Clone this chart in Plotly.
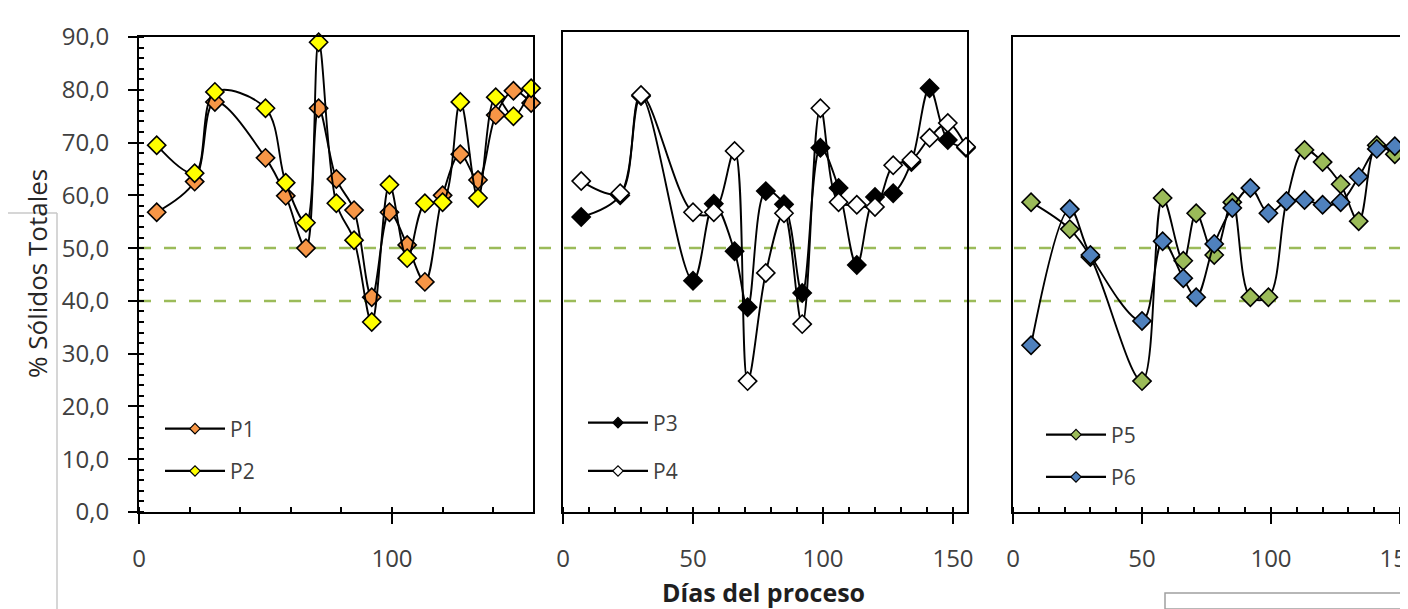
import plotly.graph_objects as go

# ---------------- data ----------------
days = [7, 22, 30, 50, 58, 66, 71, 78, 85, 92, 99, 106, 113, 120, 127, 134, 141, 148, 155]

p1 = [56.8, 62.6, 77.7, 67.1, 59.9, 50.0, 76.5, 63.1, 57.2, 40.7, 56.8, 50.6, 43.6, 60.0, 67.8, 62.9, 75.2, 79.8, 77.5]
p2 = [69.5, 64.2, 79.6, 76.5, 62.4, 54.8, 89.0, 58.5, 51.5, 36.0, 62.0, 48.1, 58.5, 58.7, 77.7, 59.5, 78.6, 75.0, 80.3]
p3 = [55.9, 60.0, 78.8, 43.8, 58.4, 49.4, 38.8, 60.8, 58.3, 41.5, 69.0, 61.4, 46.8, 59.7, 60.4, 66.3, 80.3, 70.5, 69.0]
p4 = [62.7, 60.4, 79.0, 56.8, 56.8, 68.4, 24.8, 45.3, 56.6, 35.6, 76.5, 58.7, 58.2, 57.8, 65.7, 66.7, 70.9, 73.7, 69.2]
p5 = [58.7, 53.6, 48.3, 24.8, 59.5, 47.6, 56.6, 48.7, 58.7, 40.7, 40.7, 58.9, 68.6, 66.3, 62.1, 55.1, 69.5, 67.8, 67.2]
p6 = [31.6, 57.4, 48.7, 36.2, 51.3, 44.3, 40.7, 50.8, 57.6, 61.4, 56.6, 58.9, 59.1, 58.2, 58.7, 63.5, 68.8, 69.3, 67.3]

series_names = ["P1", "P2", "P3", "P4", "P5", "P6"]
series_values = [p1, p2, p3, p4, p5, p6]
series_colors = ["#F79646", "#FFFF00", "#000000", "#FFFFFF", "#9BBB59", "#4F81BD"]
series_panel = [1, 1, 2, 2, 3, 3]

limit_lines = [50, 40]

y_title = "% Sólidos Totales"
x_title = "Días del proceso"

# ---------------- layout helpers ----------------
# the page body has an 8px margin, so the figure covers window pixels 8..1408 x 8..609
OFF = 8
W, H = 1408 - OFF, 609 - OFF
def fx(p):
    return (p - OFF) / W
def fy(p):
    return 1 - (p - OFF) / H

FONT = "Open Sans"
TXT = "#404040"

fig = go.Figure()

axis_suffix = {1: "", 2: "2", 3: "3"}
legend_name = {1: "legend", 2: "legend2", 3: "legend3"}

for name, vals, col, pan in zip(series_names, series_values, series_colors, series_panel):
    s = axis_suffix[pan]
    fig.add_trace(go.Scatter(
        x=days, y=vals, name=name, mode="lines+markers",
        xaxis="x" + s, yaxis="y" + s,
        line=dict(color="black", width=1.9, shape="spline", smoothing=1.0),
        marker=dict(symbol="diamond", size=14, color=col, line=dict(color="black", width=1.6)),
        showlegend=False, cliponaxis=False,
    ))

for name, col, pan in zip(series_names, series_colors, series_panel):
    s = axis_suffix[pan]
    fig.add_trace(go.Scatter(
        x=[None], y=[None], name=name, mode="lines+markers",
        xaxis="x" + s, yaxis="y" + s,
        line=dict(color="black", width=2.2),
        marker=dict(symbol="diamond", size=8, color=col, line=dict(color="black", width=1.2)),
        showlegend=True, legend=legend_name[pan], legendgroup=name,
    ))

tickfont = dict(family=FONT, size=24, color=TXT)

def xaxis(dom, rng, dtick, mdtick, anchor, mirror=True):
    return dict(domain=dom, range=rng, anchor=anchor, showgrid=False, zeroline=False,
                showline=True, linecolor="black", linewidth=2, mirror=mirror,
                ticks="outside", ticklen=10, tickwidth=2, tickcolor="black",
                dtick=dtick, tick0=0, tickfont=tickfont, ticklabelstandoff=14,
                ticklabeloverflow="allow",
                minor=dict(dtick=mdtick, tick0=0, ticks="inside", ticklen=5, tickwidth=1.5, tickcolor="black"),
                fixedrange=True)

def xover(over, rng, dtick, anchor, dom):
    return dict(overlaying=over, domain=dom, range=rng, anchor=anchor, showgrid=False, zeroline=False,
                showline=False, ticks="inside", ticklen=5, tickwidth=2, tickcolor="black",
                dtick=dtick, tick0=0, showticklabels=False)

ydom1 = [fy(512), fy(37)]
ydom2 = [fy(512), fy(32)]

xr1 = [0, (533 - 139) / ((392 - 139) / 100)]
xr2 = [0, (967 - 563) / ((953 - 563) / 150)]
xr3 = [0, (1408 - 1013) / ((1400 - 1013) / 150)]

legfont = dict(family=FONT, size=21, color=TXT)

fig.update_layout(
    width=W, height=H,
    margin=dict(l=0, r=0, t=0, b=0, pad=0, autoexpand=False),
    paper_bgcolor="white", plot_bgcolor="rgba(0,0,0,0)",
    separators=",.",
    xaxis=xaxis([fx(139), fx(533)], xr1, 100, 20, "y"),
    xaxis2=xaxis([fx(563), fx(967)], xr2, 50, 10, "y2"),
    xaxis3=xaxis([fx(1013), 1.0], xr3, 50, 10, "y3"),
    xaxis4=xover("x", xr1, 100, "y", [fx(139), fx(533)]),
    xaxis5=xover("x2", xr2, 50, "y2", [fx(563), fx(967)]),
    xaxis6=xover("x3", xr3, 50, "y3", [fx(1013), 1.0]),
    yaxis=dict(domain=ydom1, range=[0, 90], anchor="x", showgrid=False, zeroline=False,
               showline=True, linecolor="black", linewidth=2, mirror=True,
               ticks="outside", ticklen=9, tickwidth=2, tickcolor="black",
               dtick=10, tick0=0, tickformat=".1f", tickfont=tickfont, ticklabelstandoff=14,
               minor=dict(dtick=2, tick0=0, ticks="inside", ticklen=5, tickwidth=1.5, tickcolor="black"),
               fixedrange=True),
    yaxis4=dict(overlaying="y", domain=ydom1, range=[0, 90], anchor="x", showgrid=False, zeroline=False,
                showline=False, ticks="inside", ticklen=5, tickwidth=2, tickcolor="black",
                dtick=10, tick0=0, showticklabels=False),
    yaxis2=dict(domain=ydom2, range=[0, (512 - 32) / (475 / 90)], anchor="x2", showgrid=False, zeroline=False,
                showline=True, linecolor="black", linewidth=2, mirror=True,
                ticks="", showticklabels=False, fixedrange=True),
    yaxis3=dict(domain=ydom1, range=[0, 90], anchor="x3", showgrid=False, zeroline=False,
                showline=True, linecolor="black", linewidth=2, mirror=False,
                ticks="", showticklabels=False, fixedrange=True),
    legend=dict(x=fx(160), y=fy(450), xanchor="left", yanchor="middle",
                font=legfont, itemwidth=60, tracegroupgap=12, bgcolor="rgba(0,0,0,0)"),
    legend2=dict(x=fx(583), y=fy(447), xanchor="left", yanchor="middle",
                 font=legfont, itemwidth=60, tracegroupgap=18, bgcolor="rgba(0,0,0,0)"),
    legend3=dict(x=fx(1041), y=fy(456), xanchor="left", yanchor="middle",
                 font=legfont, itemwidth=60, tracegroupgap=12, bgcolor="rgba(0,0,0,0)"),
    showlegend=True,
)

# horizontal dashed limit lines crossing all panels
for v in limit_lines:
    fig.add_shape(type="line", xref="paper", yref="y", x0=fx(139), x1=1.0, y0=v, y1=v,
                  line=dict(color="#9BBB59", width=2.5, dash="12px,13px"), layer="below")

# faint window-frame remnants visible in the screenshot
frame = "#C8C8C8"
fig.add_shape(type="line", xref="paper", yref="paper", x0=fx(57), x1=fx(57), y0=fy(213), y1=0,
              line=dict(color=frame, width=1.5))
fig.add_shape(type="line", xref="paper", yref="paper", x0=0, x1=fx(57), y0=fy(213), y1=fy(213),
              line=dict(color=frame, width=1.5))
fig.add_shape(type="rect", xref="paper", yref="paper", x0=fx(1165), x1=1.0, y0=0, y1=fy(593),
              line=dict(color="#A0A0A0", width=1.5), fillcolor="rgba(0,0,0,0)")

fig.add_annotation(text=y_title, xref="paper", yref="paper", x=fx(37), y=fy(274),
                   textangle=-90, showarrow=False, xanchor="center", yanchor="middle",
                   font=dict(family=FONT, size=26, color="#262626"))
fig.add_annotation(text="<b>" + x_title + "</b>", xref="paper", yref="paper", x=fx(763), y=fy(592),
                   showarrow=False, xanchor="center", yanchor="middle",
                   font=dict(family=FONT, size=25, color="#1F1F1F"))

fig.write_html("out.html")
